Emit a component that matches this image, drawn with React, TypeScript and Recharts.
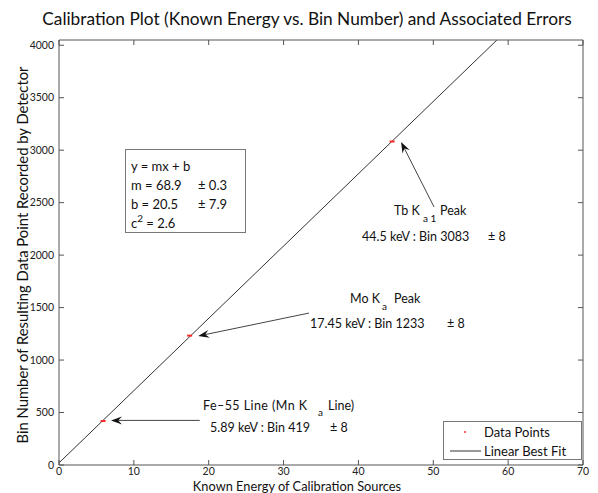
import React from "react";
import {
  ComposedChart,
  Scatter,
  Line,
  XAxis,
  YAxis,
  ReferenceLine,
} from "recharts";

// calibration sources: energy (keV) vs. recorded bin
const energies = [5.89, 17.45, 44.5];
const bins = [419, 1233, 3083];
const sourceNames = ["Fe-55", "Mo Ka", "Tb Ka1"];

// linear best fit, end points
const fitEnergy = [0, 58.5];
const fitBin = [20, 4050];

const xTicks = [0, 10, 20, 30, 40, 50, 60, 70];
const yTicks = [0, 500, 1000, 1500, 2000, 2500, 3000, 3500, 4000];

// arrow tail -> head, in data units
const arrowFrom = [
  [18.8, 425],
  [33.4, 1448],
  [50.1, 2459],
];
const arrowTo = [
  [6.95, 425],
  [18.6, 1229],
  [45.7, 3078],
];

const points = energies.map((e, i) => ({ x: e, y: bins[i], name: sourceNames[i] }));
const fitLine = fitEnergy.map((e, i) => ({ x: e, y: fitBin[i] }));

const W = 598;
const H = 493;
const FONT = "Lato, 'Open Sans', sans-serif";
const AXIS = "#555";

function Arrow(props: any) {
  const { x1, y1, x2, y2 } = props;
  const ang = Math.atan2(y2 - y1, x2 - x1);
  const len = 11;
  const half = 4;
  const bx = x2 - Math.cos(ang) * len;
  const by = y2 - Math.sin(ang) * len;
  const nx = -Math.sin(ang) * half;
  const ny = Math.cos(ang) * half;
  const notchX = x2 - Math.cos(ang) * len * 0.65;
  const notchY = y2 - Math.sin(ang) * len * 0.65;
  return (
    <g>
      <line x1={x1} y1={y1} x2={notchX} y2={notchY} stroke="#444" strokeWidth={1} />
      <polygon
        points={`${x2},${y2} ${bx + nx},${by + ny} ${notchX},${notchY} ${bx - nx},${by - ny}`}
        fill="#111"
      />
    </g>
  );
}

function RedMark(props: any) {
  const { cx, cy } = props;
  return <rect x={cx - 2.5} y={cy - 1} width={5} height={2} fill="#ff2a2a" />;
}

export default function App() {
  const txt = { fontFamily: FONT, fill: "#111" } as const;
  const tickStyle = { fontSize: 10.5, fill: "#222", fontFamily: FONT };
  return (
    <div style={{ position: "fixed", left: 0, top: 0, width: W, height: H, background: "#fff" }}>
      <ComposedChart
        width={W}
        height={H}
        margin={{ top: 39, right: 14, bottom: 27, left: 58 }}
      >
        <XAxis
          xAxisId={0}
          type="number"
          dataKey="x"
          domain={[0, 70]}
          ticks={xTicks}
          allowDataOverflow
          height={1}
          tickSize={-5}
          tickMargin={8}
          stroke={AXIS}
          tick={tickStyle}
        />
        <XAxis
          xAxisId="top"
          orientation="top"
          type="number"
          dataKey="x"
          domain={[0, 70]}
          ticks={xTicks}
          allowDataOverflow
          height={1}
          tickSize={-5}
          tickFormatter={() => ""}
          stroke={AXIS}
        />
        <YAxis
          yAxisId={0}
          type="number"
          dataKey="y"
          domain={[0, 4050]}
          ticks={yTicks}
          allowDataOverflow
          width={1}
          tickSize={-5}
          tickMargin={10}
          stroke={AXIS}
          tick={tickStyle}
        />
        <YAxis
          yAxisId="right"
          orientation="right"
          type="number"
          dataKey="y"
          domain={[0, 4050]}
          ticks={yTicks}
          allowDataOverflow
          width={1}
          tickSize={-5}
          tickFormatter={() => ""}
          stroke={AXIS}
        />
        <Line
          data={fitLine}
          dataKey="y"
          stroke="#333"
          strokeWidth={1}
          dot={false}
          isAnimationActive={false}
        />
        <Scatter data={points} dataKey="y" shape={<RedMark />} isAnimationActive={false} />
        {arrowFrom.map((from, i) => (
          <ReferenceLine
            key={i}
            segment={[
              { x: from[0], y: from[1] },
              { x: arrowTo[i][0], y: arrowTo[i][1] },
            ]}
            shape={(p: any) => <Arrow {...p} />}
            ifOverflow="visible"
          />
        ))}
      </ComposedChart>

      <svg
        width={W}
        height={H}
        style={{ position: "absolute", left: 0, top: 0, pointerEvents: "none" }}
      >
        <text x={307} y={25} textAnchor="middle" fontSize={17.3} {...txt}>
          Calibration Plot (Known Energy vs. Bin Number) and Associated Errors
        </text>
        <text x={297} y={491} textAnchor="middle" fontSize={12.8} {...txt}>
          Known Energy of Calibration Sources
        </text>
        <text
          transform="translate(28,255) rotate(-90)"
          textAnchor="middle"
          fontSize={14.8}
          {...txt}
        >
          Bin Number of Resulting Data Point Recorded by Detector
        </text>

        {/* fit parameters */}
        <rect x={125.5} y={149.5} width={120} height={83} fill="#fff" stroke="#777" />
        <g fontSize={13} {...txt}>
          <text x={131} y={171}>y = mx + b</text>
          <text x={131} y={190}>m = 68.9</text>
          <text x={198} y={190}>± 0.3</text>
          <text x={131} y={209}>b = 20.5</text>
          <text x={198} y={209}>± 7.9</text>
          <text x={131} y={228}>
            c<tspan dy={-6} fontSize={10}>2</tspan>
            <tspan dy={6}> = 2.6</tspan>
          </text>
        </g>

        {/* annotations */}
        <g fontSize={12.5} {...txt}>
          <text x={394} y={215}>Tb K</text>
          <text x={423} y={222} fontSize={10}>a 1</text>
          <text x={440} y={215}>Peak</text>
          <text x={362} y={241}>44.5 keV : Bin 3083</text>
          <text x={488} y={241}>± 8</text>

          <text x={350} y={303}>Mo K</text>
          <text x={382} y={310} fontSize={10}>a</text>
          <text x={394} y={303}>Peak</text>
          <text x={310} y={328}>17.45 keV : Bin 1233</text>
          <text x={447} y={328}>± 8</text>

          <text x={203} y={410} textLength={104}>Fe–55 Line (Mn K</text>
          <text x={318} y={416} fontSize={10}>a</text>
          <text x={328} y={410}>Line)</text>
          <text x={210} y={432}>5.89 keV : Bin 419</text>
          <text x={330} y={432}>± 8</text>
        </g>

        {/* legend */}
        <rect x={443.5} y={421.5} width={138} height={38} fill="#fff" stroke="#777" />
        <circle cx={465} cy={432} r={1} fill="#ff2a2a" />
        <line x1={450} x2={481} y1={451} y2={451} stroke="#333" />
        <g fontSize={13} {...txt}>
          <text x={484} y={437}>Data Points</text>
          <text x={484} y={456}>Linear Best Fit</text>
        </g>
      </svg>
    </div>
  );
}
